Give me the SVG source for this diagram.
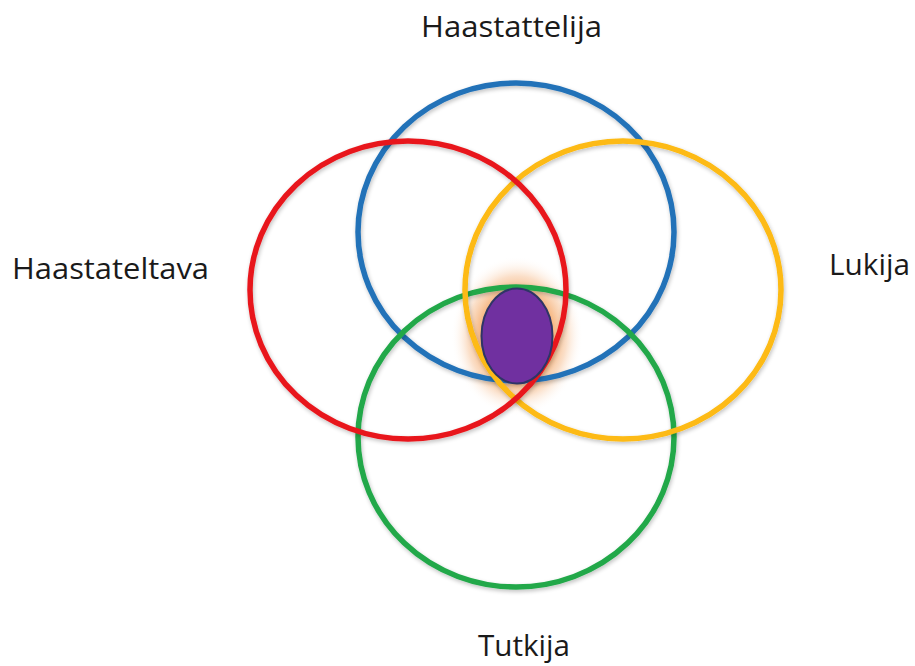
<svg xmlns="http://www.w3.org/2000/svg" width="915" height="666" viewBox="0 0 915 666">
<defs>
<style>
.ring{fill:none;stroke-width:5.5;filter:url(#sh)}
.lbl{font-family:"Open Sans","Liberation Sans",sans-serif;font-size:30px;fill:#1a1a1a}
</style>
<filter id="sh" x="-10%" y="-10%" width="120%" height="120%">
<feGaussianBlur in="SourceAlpha" stdDeviation="2"/>
<feOffset dx="1" dy="2" result="b"/>
<feComponentTransfer><feFuncA type="linear" slope="0.25"/></feComponentTransfer>
<feMerge><feMergeNode/><feMergeNode in="SourceGraphic"/></feMerge>
</filter>
<radialGradient id="glow">
<stop offset="0.5" stop-color="#F4A460" stop-opacity="0.95"/>
<stop offset="0.75" stop-color="#F7C49A" stop-opacity="0.55"/>
<stop offset="1" stop-color="#FFFFFF" stop-opacity="0"/>
</radialGradient>
</defs>
<rect width="915" height="666" fill="#fff"/>
<g id="glow-bg"><ellipse cx="517" cy="336" rx="66" ry="80" fill="url(#glow)"/></g>
<g id="nodes">
<g id="haastattelija"><ellipse class="ring" cx="516" cy="232" rx="158" ry="149" stroke="#2372B8"/></g>
<g id="tutkija"><ellipse class="ring" cx="516" cy="437" rx="158" ry="150" stroke="#21A84A"/></g>
<g id="lukija"><ellipse class="ring" cx="623" cy="290" rx="158" ry="149" stroke="#FDBA12"/></g>
<g id="haastateltava"><ellipse class="ring" cx="408" cy="290" rx="158" ry="149" stroke="#E8161B"/></g>
<g id="center"><ellipse cx="517" cy="336" rx="35.5" ry="47.5" fill="#7030A0" stroke="#2E3566" stroke-width="2"/></g>
</g>
<g id="connectors"/>
<g id="labels">
<text class="lbl" x="421" y="37" textLength="181" lengthAdjust="spacingAndGlyphs">Haastattelija</text>
<text class="lbl" x="12" y="279" textLength="197" lengthAdjust="spacingAndGlyphs">Haastateltava</text>
<text class="lbl" x="829" y="275" textLength="81" lengthAdjust="spacingAndGlyphs">Lukija</text>
<text class="lbl" x="478" y="656" textLength="92" lengthAdjust="spacingAndGlyphs">Tutkija</text>
</g>
</svg>
